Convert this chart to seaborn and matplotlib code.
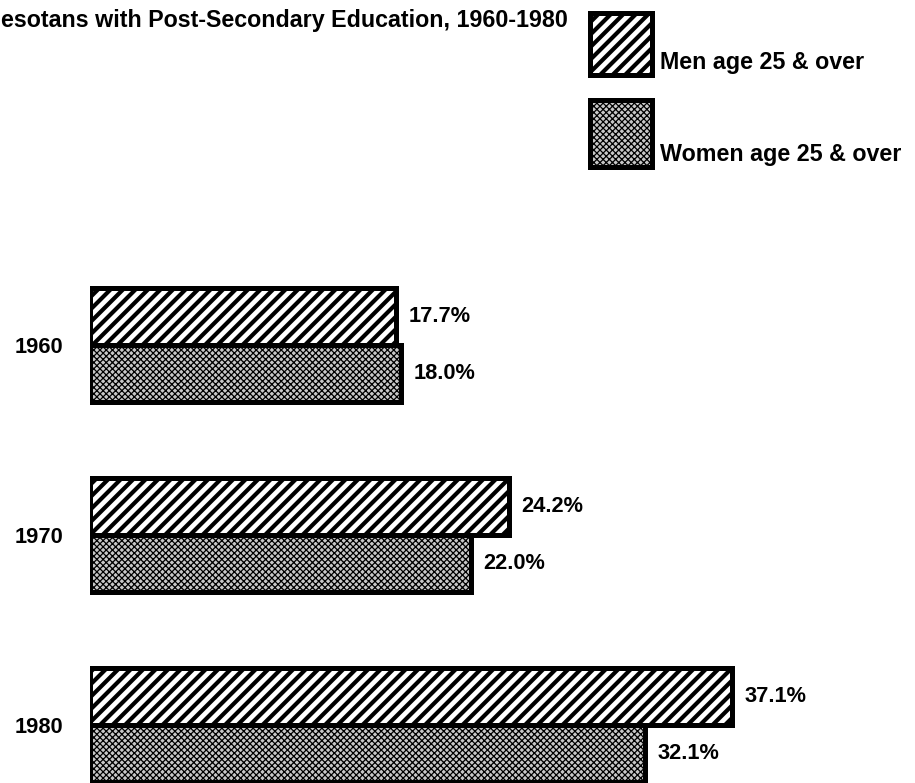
import matplotlib
matplotlib.use("Agg")
import matplotlib.pyplot as plt
from matplotlib.patches import Rectangle
import seaborn as sns
import pandas as pd

# ---- data ----
years = ["1960", "1970", "1980"]
groups = ["Men age 25 & over", "Women age 25 & over"]
men_values = [17.7, 24.2, 37.1]
women_values = [18.0, 22.0, 32.1]
# the scan shows the title cut at the left edge; this is its visible part
title = "esotans with Post-Secondary Education, 1960-1980"

df = pd.DataFrame({
    "year": years * 2,
    "group": [groups[0]] * 3 + [groups[1]] * 3,
    "value": men_values + women_values,
})

sns.set_theme(style="white")
plt.rcParams["font.family"] = ["Liberation Sans", "DejaVu Sans"]

W, H, DPI = 915, 783, 150
fig = plt.figure(figsize=(W / DPI, H / DPI), dpi=DPI)
fig.patch.set_facecolor("white")

def fx(x):
    return x / W

def fy(y):
    return 1 - y / H

ax = fig.add_axes([fx(90), 0, fx(810), 1])
ax.set_facecolor("none")

styles = {
    groups[0]: dict(face="white", hatch="////", hlw=2.0),
    groups[1]: dict(face="#c8c8c8", hatch="xxxxxxxx", hlw=0.6),
}

sns.barplot(data=df, x="value", y="year", hue="group", orient="h",
            order=years, hue_order=groups, width=0.6, dodge=True,
            palette={g: styles[g]["face"] for g in groups}, saturation=1,
            edgecolor="black", linewidth=2.4, legend=False, ax=ax)

for cont, g in zip(ax.containers, groups):
    for p in cont:
        p.set_hatch(styles[g]["hatch"])
        if hasattr(p, "set_hatch_linewidth"):
            p.set_hatch_linewidth(styles[g]["hlw"])
    ax.bar_label(cont, labels=[f"{v:.1f}%" for v in cont.datavalues],
                 padding=6, fontsize=10.5, fontweight="bold", color="black")

ax.set_xlim(0, 810 / 17.3)
c0, step = 345, 190
ax.set_ylim((783 - c0) / step, -c0 / step)
ax.set_xticks([])
ax.set_xlabel("")
ax.set_ylabel("")
for s in ax.spines.values():
    s.set_visible(False)
ax.tick_params(axis="y", length=0, pad=13, labelsize=10.5, labelcolor="black")
for t in ax.get_yticklabels():
    t.set_fontweight("bold")

# title
fig.text(fx(1), fy(21), title, ha="left", va="center",
         fontsize=11.2, fontweight="bold", color="black")

# legend drawn manually
leg = [(groups[0], 13, 75, 62), (groups[1], 100, 167, 155)]
for g, y0, y1, ty in leg:
    st = styles[g]
    r = Rectangle((fx(590), fy(y1)), fx(62), (y1 - y0) / H,
                  transform=fig.transFigure, facecolor=st["face"],
                  edgecolor="black", linewidth=2.4, hatch=st["hatch"])
    if hasattr(r, "set_hatch_linewidth"):
        r.set_hatch_linewidth(st["hlw"])
    fig.add_artist(r)
    fig.text(fx(660), fy(ty), g, ha="left", va="center",
             fontsize=11.2, fontweight="bold", color="black")

fig.savefig("out.png", dpi=DPI, facecolor="white")
